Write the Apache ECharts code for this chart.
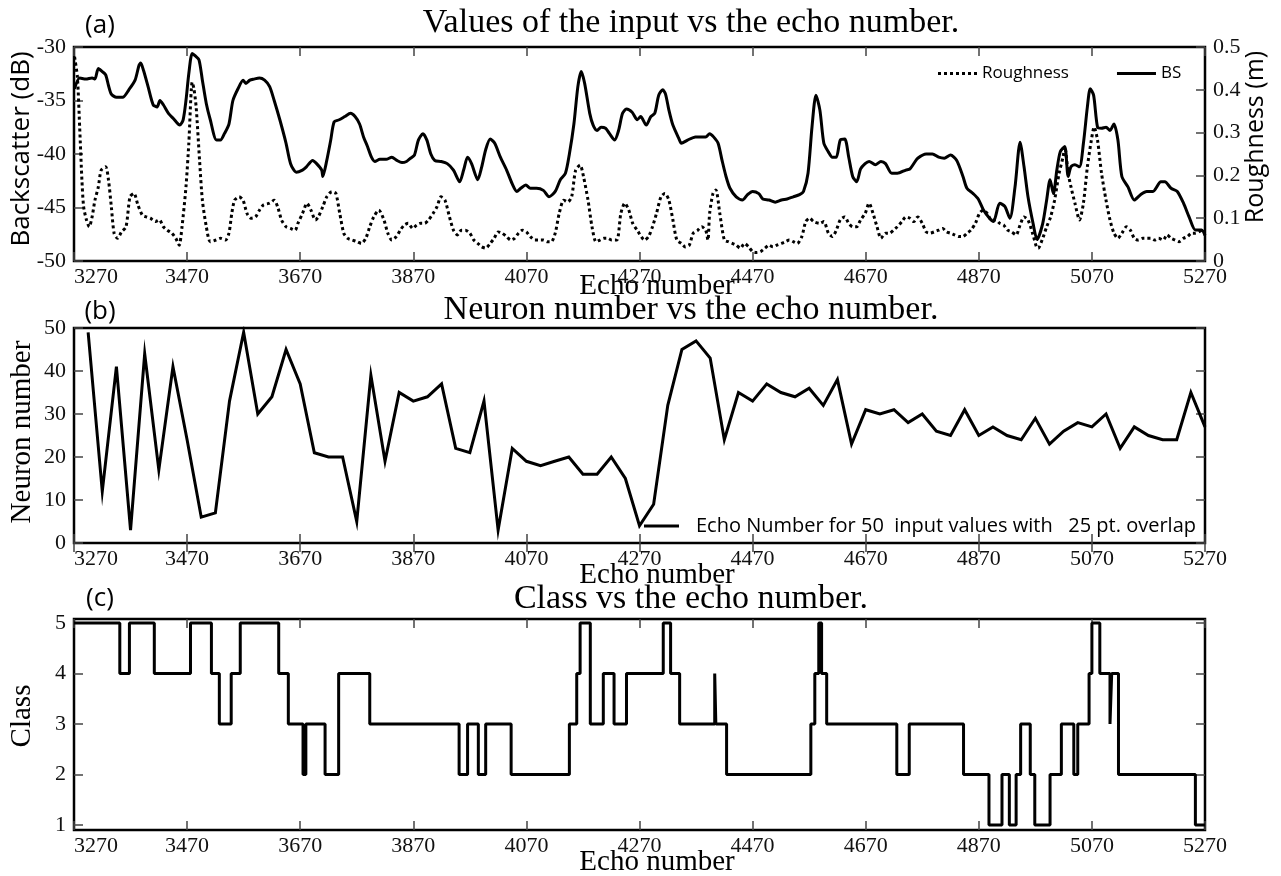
<!DOCTYPE html>
<html>
<head>
<meta charset="utf-8">
<script src="https://cdn.jsdelivr.net/npm/echarts@6/dist/echarts.min.js"></script>
<style>
  html, body { margin: 0; padding: 0; background: #fff; }
  #chart { width: 1281px; height: 876px; }
</style>
</head>
<body>
<div id="chart"></div>
<script>
// ---- Echo-number axis shared by all three panels ----
const echoMin = 3270;
const echoMax = 5270;
const echoStep = 200;

// ---- (a) Backscatter (dB) along the track ----
const bsEcho = [3271,3280,3291,3302,3307,3313,3320,3326,3331,3336,3345,3356,3367,3378,3385,3388,3393,3401,3410,3417,3422,3428,3437,3446,3457,3463,3468,3473,3479,3484,3491,3497,3504,3511,3522,3529,3536,3544,3551,3560,3569,3574,3581,3588,3598,3607,3616,3624,3634,3645,3653,3663,3674,3681,3692,3699,3708,3710,3717,3724,3730,3739,3749,3759,3767,3775,3782,3789,3796,3802,3811,3822,3832,3841,3850,3858,3865,3872,3879,3887,3894,3901,3908,3919,3930,3941,3952,3959,3966,3973,3984,3991,3998,4006,4014,4024,4035,4045,4053,4060,4069,4077,4088,4100,4110,4121,4130,4139,4146,4154,4161,4167,4173,4182,4188,4195,4202,4210,4217,4226,4233,4240,4247,4257,4266,4272,4282,4290,4297,4304,4311,4316,4322,4329,4340,4344,4355,4369,4387,4394,4401,4409,4416,4423,4430,4441,4452,4461,4470,4481,4488,4499,4510,4521,4531,4542,4553,4560,4568,4575,4582,4589,4596,4604,4611,4618,4625,4633,4640,4647,4654,4661,4669,4676,4687,4697,4705,4716,4726,4741,4748,4755,4762,4777,4788,4799,4809,4820,4831,4842,4849,4860,4869,4878,4889,4896,4907,4916,4925,4934,4943,4950,4957,4966,4973,4983,4990,4996,5002,5008,5014,5022,5028,5033,5040,5048,5055,5062,5067,5073,5080,5087,5095,5102,5109,5116,5123,5134,5145,5156,5167,5178,5192,5199,5210,5221,5232,5242,5253,5264,5270];
const bsDb = [-33.9,-32.9,-33.0,-32.9,-33.0,-32.0,-32.3,-32.6,-33.6,-34.4,-34.7,-34.7,-34.0,-33.1,-31.7,-31.5,-32.2,-33.7,-35.4,-35.6,-35.0,-35.4,-36.2,-36.7,-37.3,-36.8,-35.0,-32.5,-30.6,-30.8,-31.2,-33.1,-35.3,-36.8,-38.7,-38.7,-38.1,-37.2,-35.0,-33.9,-33.1,-33.4,-33.1,-33.0,-32.9,-33.1,-33.7,-35.0,-36.8,-39.0,-40.9,-41.7,-41.5,-41.2,-40.6,-40.9,-41.5,-42.1,-40.6,-38.7,-37.0,-36.8,-36.5,-36.2,-36.5,-37.2,-38.4,-39.3,-40.3,-40.7,-40.5,-40.5,-40.3,-40.6,-40.8,-40.7,-40.4,-40.1,-38.7,-38.1,-38.7,-40.0,-40.6,-40.7,-40.9,-41.5,-42.6,-41.5,-40.3,-40.9,-42.4,-41.2,-39.6,-38.6,-39.0,-40.3,-41.5,-42.8,-43.5,-43.2,-42.9,-43.2,-43.2,-43.4,-44.0,-43.5,-42.4,-41.8,-40.0,-37.2,-33.7,-32.3,-33.4,-36.2,-37.3,-37.8,-37.5,-37.6,-38.1,-38.7,-37.8,-36.2,-35.8,-36.1,-36.8,-36.5,-37.3,-36.5,-36.2,-34.5,-34.0,-34.4,-35.9,-37.3,-38.6,-39.0,-38.7,-38.4,-38.4,-38.1,-38.4,-39.0,-40.6,-42.1,-43.2,-44.0,-44.3,-43.8,-43.5,-43.7,-44.2,-44.3,-44.5,-44.3,-44.2,-44.0,-43.8,-43.5,-41.8,-37.5,-34.5,-35.9,-39.0,-39.8,-40.3,-40.3,-38.7,-38.6,-40.3,-42.1,-42.6,-41.4,-40.9,-40.7,-41.0,-40.7,-40.9,-41.8,-41.8,-41.5,-41.4,-40.9,-40.4,-40.0,-40.0,-40.3,-40.4,-40.1,-40.6,-42.1,-43.2,-43.7,-44.2,-45.2,-46.0,-46.3,-44.6,-44.9,-46.0,-43.1,-38.9,-41.2,-44.0,-46.5,-48.0,-46.5,-44.3,-42.4,-43.7,-41.5,-39.8,-39.3,-42.1,-41.2,-41.0,-41.2,-39.0,-35.6,-33.9,-34.5,-37.5,-37.6,-37.5,-37.8,-37.2,-38.7,-42.1,-43.1,-44.3,-43.8,-43.5,-43.5,-42.6,-42.6,-43.2,-43.5,-44.6,-45.9,-47.1,-47.1,-47.6];

// ---- (a) Roughness (m) along the track ----
const roughEcho = [3271,3276,3280,3284,3287,3292,3297,3302,3307,3313,3318,3326,3331,3336,3341,3347,3354,3362,3369,3376,3383,3391,3398,3405,3414,3421,3428,3435,3443,3450,3456,3461,3468,3473,3479,3482,3486,3492,3497,3504,3511,3521,3529,3538,3544,3549,3554,3562,3569,3576,3583,3591,3598,3605,3616,3624,3630,3637,3645,3653,3661,3666,3674,3682,3689,3697,3702,3710,3717,3726,3733,3740,3747,3754,3762,3771,3778,3786,3793,3800,3809,3818,3825,3832,3840,3847,3854,3861,3869,3876,3883,3890,3897,3905,3912,3919,3926,3934,3941,3948,3955,3962,3970,3977,3984,3991,3998,4006,4013,4020,4027,4035,4042,4049,4056,4063,4070,4077,4085,4092,4100,4107,4114,4121,4128,4136,4143,4150,4157,4165,4171,4179,4186,4193,4200,4207,4214,4221,4230,4237,4244,4251,4258,4266,4279,4286,4293,4300,4308,4315,4322,4329,4336,4344,4351,4358,4365,4373,4380,4387,4391,4394,4400,4405,4412,4420,4427,4434,4441,4448,4456,4463,4470,4477,4484,4492,4499,4506,4513,4521,4528,4535,4542,4549,4557,4564,4571,4578,4589,4596,4604,4611,4618,4625,4633,4640,4647,4654,4661,4669,4676,4683,4690,4697,4705,4712,4719,4726,4734,4741,4748,4755,4762,4770,4777,4784,4791,4799,4806,4813,4820,4827,4835,4842,4849,4856,4864,4871,4878,4885,4892,4900,4907,4914,4921,4928,4936,4943,4950,4957,4965,4972,4975,4983,4990,4997,5004,5012,5019,5022,5028,5033,5040,5048,5055,5062,5069,5074,5080,5087,5095,5102,5109,5116,5123,5131,5138,5145,5152,5160,5167,5174,5181,5188,5196,5203,5210,5217,5224,5232,5239,5246,5253,5264];
const roughM = [0.477,0.430,0.313,0.189,0.127,0.096,0.080,0.103,0.142,0.173,0.212,0.220,0.189,0.127,0.064,0.053,0.068,0.080,0.150,0.158,0.131,0.107,0.103,0.100,0.092,0.096,0.080,0.072,0.065,0.053,0.037,0.080,0.173,0.274,0.418,0.403,0.360,0.236,0.142,0.080,0.045,0.049,0.053,0.049,0.065,0.111,0.142,0.150,0.142,0.111,0.100,0.103,0.119,0.131,0.135,0.142,0.127,0.096,0.080,0.076,0.072,0.088,0.111,0.135,0.119,0.096,0.103,0.127,0.150,0.162,0.158,0.111,0.065,0.053,0.049,0.045,0.041,0.053,0.080,0.103,0.119,0.096,0.065,0.049,0.057,0.072,0.084,0.088,0.076,0.084,0.088,0.088,0.096,0.111,0.127,0.150,0.142,0.103,0.072,0.061,0.072,0.072,0.065,0.049,0.041,0.033,0.030,0.041,0.053,0.068,0.065,0.057,0.049,0.053,0.065,0.072,0.068,0.057,0.049,0.049,0.049,0.045,0.045,0.065,0.111,0.142,0.138,0.150,0.212,0.224,0.197,0.142,0.080,0.045,0.049,0.053,0.053,0.049,0.049,0.111,0.135,0.119,0.088,0.072,0.049,0.057,0.080,0.111,0.150,0.158,0.142,0.096,0.049,0.041,0.033,0.037,0.065,0.072,0.080,0.072,0.049,0.111,0.158,0.166,0.111,0.049,0.045,0.041,0.037,0.030,0.041,0.033,0.022,0.020,0.022,0.030,0.037,0.033,0.037,0.041,0.045,0.049,0.045,0.041,0.057,0.092,0.100,0.092,0.088,0.092,0.065,0.057,0.072,0.096,0.103,0.088,0.080,0.080,0.096,0.111,0.135,0.111,0.080,0.053,0.065,0.065,0.072,0.080,0.092,0.103,0.100,0.092,0.103,0.088,0.068,0.065,0.068,0.072,0.076,0.068,0.065,0.061,0.057,0.057,0.065,0.072,0.088,0.111,0.119,0.111,0.096,0.096,0.088,0.084,0.072,0.068,0.061,0.084,0.103,0.096,0.065,0.033,0.030,0.053,0.080,0.103,0.142,0.205,0.243,0.267,0.205,0.173,0.135,0.096,0.135,0.220,0.282,0.313,0.282,0.205,0.142,0.096,0.065,0.053,0.065,0.080,0.072,0.053,0.049,0.053,0.053,0.053,0.049,0.053,0.049,0.061,0.053,0.049,0.045,0.053,0.057,0.065,0.065,0.072];

// ---- (b) Winning neuron per window of 50 echoes (25-echo overlap) ----
const neuronEcho = [3295,3320,3345,3370,3395,3420,3445,3470,3495,3520,3545,3570,3595,3620,3645,3670,3695,3720,3745,3770,3795,3820,3845,3870,3895,3920,3945,3970,3995,4020,4045,4070,4095,4120,4145,4170,4195,4220,4245,4270,4295,4320,4345,4370,4395,4420,4445,4470,4495,4520,4545,4570,4595,4620,4645,4670,4695,4720,4745,4770,4795,4820,4845,4870,4895,4920,4945,4970,4995,5020,5045,5070,5095,5120,5145,5170,5195,5220,5245,5270];
const neuronNum = [49,12,41,3,44,17,41,24,6,7,33,49,30,34,45,37,21,20,20,5,39,19,35,33,34,37,22,21,33,3,22,19,18,19,20,16,16,20,15,4,9,32,45,47,43,24,35,33,37,35,34,36,32,38,23,31,30,31,28,30,26,25,31,25,27,25,24,29,23,26,28,27,30,22,27,25,24,24,35,27];

// ---- (c) Seabed class: echo where each class run starts ----
const classEcho = [3270,3351,3368,3412,3476,3513,3527,3548,3564,3632,3649,3675,3680,3714,3738,3793,3951,3966,3985,3998,4043,4146,4159,4165,4183,4206,4225,4247,4312,4325,4341,4403,4405,4424,4573,4580,4587,4592,4601,4725,4747,4843,4888,4911,4924,4936,4944,4961,4969,4996,5016,5038,5045,5065,5070,5084,5102,5105,5117,5253,5270];
const classVal  = [5,4,5,4,5,4,3,4,5,4,3,2,3,2,4,3,2,3,2,3,2,3,4,5,3,4,3,4,5,4,3,4,3,2,3,4,5,4,3,2,3,2,1,2,1,2,3,2,1,2,3,2,3,4,5,4,3,4,2,1,1];

const zip = (xs, ys) => xs.map((x, i) => [x, ys[i]]);

const serif = 'Liberation Serif';
const sans = 'Open Sans';
const ink = '#000';

// legend glyphs: a solid bar and a row of square dots
const solidIcon = 'rect';
const dottedIcon = 'path://M0,0h3v3h-3z M6,0h3v3h-3z M12,0h3v3h-3z M18,0h3v3h-3z M24,0h3v3h-3z M30,0h3v3h-3z M36,0h3v3h-3z';

const tickLabel = { fontFamily: serif, fontSize: 22, color: '#111' };
const tickStyle = { show: true, inside: true, length: 9, lineStyle: { color: '#444', width: 1.5 } };

function bottomEchoAxis(gridIndex, nameGap) {
  return {
    type: 'value', gridIndex, position: 'bottom',
    min: echoMin, max: echoMax, interval: echoStep,
    axisLine: { show: false }, splitLine: { show: false },
    axisTick: tickStyle,
    axisLabel: Object.assign({ margin: 5, alignMinLabel: 'left', formatter: v => String(v) }, tickLabel),
    name: 'Echo number', nameLocation: 'middle', nameGap, nameMoveOverlap: false,
    nameTextStyle: { fontFamily: serif, fontSize: 29, color: ink, verticalAlign: 'middle', padding: [0, 0, 0, 35] }
  };
}
function topEchoAxis(gridIndex) {
  return {
    type: 'value', gridIndex, position: 'top',
    min: echoMin, max: echoMax, interval: echoStep,
    axisLine: { show: false }, splitLine: { show: false },
    axisTick: tickStyle, axisLabel: { show: false }
  };
}
function valueAxis(gridIndex, position, min, max, interval, name, nameGap, nameStyle) {
  const axis = {
    type: 'value', gridIndex, position, min, max, interval,
    axisLine: { show: false }, splitLine: { show: false }, axisTick: tickStyle,
    axisLabel: name ? Object.assign({ margin: 8 }, tickLabel) : { show: false }
  };
  if (name) {
    Object.assign(axis, { name, nameLocation: 'middle', nameRotate: 90, nameGap, nameMoveOverlap: false,
                          nameTextStyle: Object.assign({ color: ink, verticalAlign: 'middle' }, nameStyle) });
  }
  return axis;
}
function frameGrid(top, height) {
  return { left: 74, top, width: 1131, height, show: true, borderColor: ink, borderWidth: 2.5,
           backgroundColor: 'transparent', containLabel: false, outerBoundsMode: 'none' };
}
const panelTag = { fontFamily: sans, fontSize: 26, fontWeight: 'normal', color: ink };
const panelTitle = { fontFamily: serif, fontSize: 34, fontWeight: 'normal', color: ink };

const option = {
  animation: false,
  backgroundColor: '#fff',
  title: [
    { text: '(a)', left: 100, top: 13, textAlign: 'center', padding: 0, textStyle: panelTag },
    { text: 'Values of the input vs the echo number.', left: 691, top: 6, textAlign: 'center', padding: 0, textStyle: panelTitle },
    { text: '(b)', left: 100, top: 299, textAlign: 'center', padding: 0, textStyle: panelTag },
    { text: 'Neuron number vs the echo number.', left: 691, top: 293, textAlign: 'center', padding: 0, textStyle: panelTitle },
    { text: '(c)', left: 100, top: 586, textAlign: 'center', padding: 0, textStyle: panelTag },
    { text: 'Class vs the echo number.', left: 691, top: 582, textAlign: 'center', padding: 0, textStyle: panelTitle }
  ],
  legend: [
    { data: [{ name: 'Roughness', icon: dottedIcon }, { name: 'BS', icon: solidIcon }],
      left: 938, top: 65, padding: 0, itemWidth: 39, itemHeight: 3, itemGap: 48,
      textStyle: { fontFamily: sans, fontSize: 17, color: ink } },
    { data: [{ name: 'Echo Number for 50  input values with   25 pt. overlap', icon: solidIcon }],
      left: 644, top: 516, padding: 0, itemWidth: 35, itemHeight: 3,
      textStyle: { fontFamily: sans, fontSize: 20, color: ink, padding: [0, 0, 0, 12] } }
  ],
  grid: [
    frameGrid(47, 214),
    frameGrid(328, 215),
    frameGrid(619, 211),
    { left: 74, top: 623, width: 1131, height: 202, show: false, containLabel: false, outerBoundsMode: 'none' }
  ],
  xAxis: [
    bottomEchoAxis(0, 25),
    topEchoAxis(0),
    bottomEchoAxis(1, 32),
    topEchoAxis(1),
    bottomEchoAxis(2, 32),
    topEchoAxis(2),
    { type: 'value', gridIndex: 3, min: echoMin, max: echoMax, show: false }
  ],
  yAxis: [
    valueAxis(0, 'left', -50, -30, 5, 'Backscatter (dB)', 52,
              { fontFamily: sans, fontSize: 26, padding: [0, 0, 0, 10] }),
    valueAxis(0, 'right', 0, 0.5, 0.1, 'Roughness (m)', 51,
              { fontFamily: sans, fontSize: 25, padding: [0, 0, 0, 34] }),
    valueAxis(1, 'left', 0, 50, 10, 'Neuron number', 52,
              { fontFamily: serif, fontSize: 29, padding: [0, 0, 0, 7] }),
    valueAxis(1, 'right', 0, 50, 10),
    { type: 'value', gridIndex: 2, min: 0, max: 1, show: false },
    valueAxis(3, 'left', 1, 5, 1, 'Class', 52,
              { fontFamily: serif, fontSize: 29, padding: [0, 0, 0, 16] }),
    valueAxis(3, 'right', 1, 5, 1)
  ],
  series: [
    { name: 'Roughness', type: 'line', xAxisIndex: 0, yAxisIndex: 1, data: zip(roughEcho, roughM),
      symbol: 'none', smooth: 0.25, z: 3,
      lineStyle: { color: ink, width: 3, type: [3, 3], cap: 'butt' }, itemStyle: { color: ink } },
    { name: 'BS', type: 'line', xAxisIndex: 0, yAxisIndex: 0, data: zip(bsEcho, bsDb),
      symbol: 'none', smooth: 0.25, z: 4,
      lineStyle: { color: ink, width: 3 }, itemStyle: { color: ink } },
    { name: 'Echo Number for 50  input values with   25 pt. overlap', type: 'line', xAxisIndex: 2, yAxisIndex: 2,
      data: zip(neuronEcho, neuronNum), symbol: 'none',
      lineStyle: { color: ink, width: 3, join: 'miter' }, itemStyle: { color: ink } },
    { name: 'Class', type: 'line', xAxisIndex: 6, yAxisIndex: 5, data: zip(classEcho, classVal),
      step: 'end', symbol: 'none', clip: false,
      lineStyle: { color: ink, width: 3 }, itemStyle: { color: ink } }
  ]
};

const chart = echarts.init(document.getElementById('chart'), null, { renderer: 'canvas' });
chart.setOption(option);
</script>
</body>
</html>
